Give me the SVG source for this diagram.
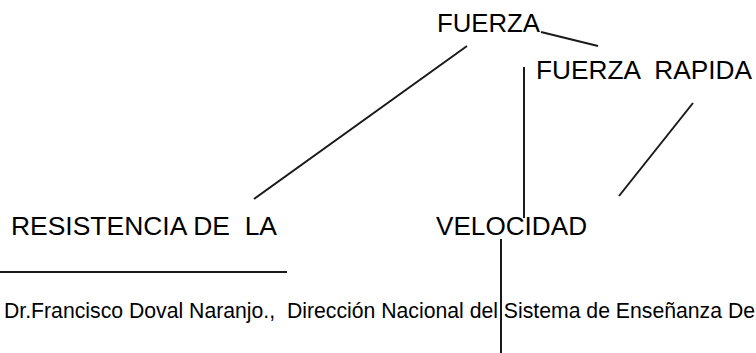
<svg xmlns="http://www.w3.org/2000/svg" width="756" height="353" viewBox="0 0 756 353">
<style>
text{font-family:"Liberation Sans",Arial,sans-serif;fill:#000}
.big{font-size:26px}
.foot{font-size:21.2px}
.c line{stroke:#1a1a1a;stroke-width:2;fill:none}
</style>
<rect width="756" height="353" fill="#fff"/>
<g id="fuerza"><text class="big" x="437" y="32" textLength="103" lengthAdjust="spacingAndGlyphs">FUERZA</text></g>
<g id="fuerza-rapida"><text class="big" x="536" y="79" xml:space="preserve" textLength="216" lengthAdjust="spacingAndGlyphs">FUERZA  RAPIDA</text></g>
<g id="resistencia"><text class="big" x="11" y="235" xml:space="preserve" textLength="266" lengthAdjust="spacingAndGlyphs">RESISTENCIA DE  LA</text></g>
<g id="velocidad"><text class="big" x="436" y="235" textLength="151" lengthAdjust="spacingAndGlyphs">VELOCIDAD</text></g>
<g id="footer"><text class="foot" x="4" y="318" xml:space="preserve" textLength="751" lengthAdjust="spacingAndGlyphs">Dr.Francisco Doval Naranjo.,  Dirección Nacional del Sistema de Enseñanza De</text></g>
<g id="connectors" class="c">
<line x1="467" y1="46" x2="254" y2="199"/>
<line x1="541" y1="32" x2="598" y2="46"/>
<line x1="524" y1="67" x2="524" y2="218"/>
<line x1="693" y1="103" x2="619" y2="196"/>
<line x1="501" y1="239" x2="501" y2="353"/>
<line x1="0" y1="272" x2="287" y2="272"/>
</g>
</svg>
